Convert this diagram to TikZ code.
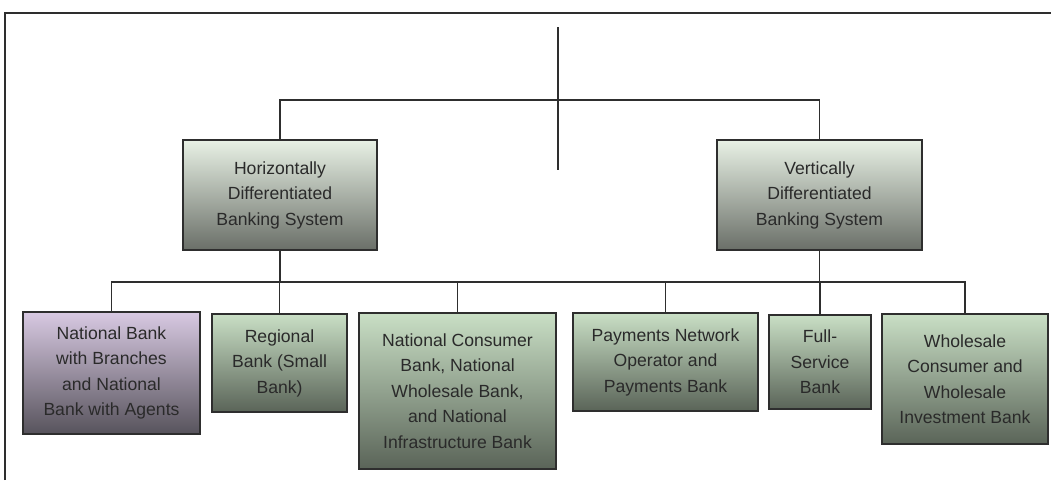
\documentclass[tikz,border=0pt]{standalone}
\usepackage{fontspec}
\setmainfont{Liberation Sans}
\definecolor{txt}{HTML}{2A2A2A}
\definecolor{edge}{HTML}{2E2E2E}
\definecolor{gtop}{HTML}{C9DFC5}
\definecolor{gmid}{HTML}{A3B59F}
\definecolor{gbot}{HTML}{5A6458}
\definecolor{ttop}{HTML}{E8F1E5}
\definecolor{tmid}{HTML}{BCC5B9}
\definecolor{tbot}{HTML}{6A6F68}
\definecolor{ptop}{HTML}{D8C9E2}
\definecolor{pmid}{HTML}{A99FB0}
\definecolor{pbot}{HTML}{57535C}
\tikzset{
  box/.style={draw=edge, line width=2pt, inner sep=0pt, outer sep=0pt,
    align=center, text=txt, font={\fontsize{17.6}{25.5}\selectfont}},
  greenbox/.style={box, top color=gtop, middle color=gmid, bottom color=gbot},
  topbox/.style={box, top color=ttop, middle color=tmid, bottom color=tbot},
  purplebox/.style={box, top color=ptop, middle color=pmid, bottom color=pbot},
  conn/.style={draw=edge, line width=1.7pt},
}
\begin{document}
\begin{tikzpicture}[x={(1pt,0)}, y={(0,-1pt)}]
\useasboundingbox (0,0) rectangle (1051,480);
% frame
\draw[draw=edge, line width=1.6pt] (5,480) -- (5,13) -- (1051,13);
% top level
\node[topbox, minimum width=194pt, minimum height=110pt] (h) at (280,195)
  {Horizontally\\Differentiated\\Banking System};
\node[topbox, minimum width=205pt, minimum height=110pt] (v) at (819.5,195)
  {Vertically\\Differentiated\\Banking System};
% bottom level
\node[purplebox, minimum width=177pt, minimum height=122pt] (b1) at (111.5,373)
  {National Bank\\with Branches\\and National\\Bank with Agents};
\node[greenbox, minimum width=135pt, minimum height=98pt] (b2) at (279.5,363)
  {Regional\\Bank (Small\\Bank)};
\node[greenbox, minimum width=197pt, minimum height=156pt] (b3) at (457.5,391)
  {National Consumer\\Bank, National\\Wholesale Bank,\\and National\\Infrastructure Bank};
\node[greenbox, minimum width=185pt, minimum height=98pt] (b4) at (665.5,362)
  {Payments Network\\Operator and\\Payments Bank};
\node[greenbox, minimum width=102pt, minimum height=94pt] (b5) at (820,362)
  {Full-\\Service\\Bank};
\node[greenbox, minimum width=166pt, minimum height=130pt] (b6) at (965,379)
  {Wholesale\\Consumer and\\Wholesale\\Investment Bank};
% connectors
\coordinate (rt) at (558,27);
\coordinate (rb) at (558,170);
\coordinate (topbus) at (0,100);
\coordinate (bus) at (0,282);
\draw[conn] (rt) -- (rb);
\draw[conn] (h.north) |- (v.north |- topbus) -- (v.north);
\draw[conn] (b1.north) |- (b6.north |- bus) -- (b6.north);
\draw[conn] (h.south) -- (h.south |- bus);
\draw[conn] (v.south) -- (v.south |- bus);
\draw[conn] (b2.north) -- (b2.north |- bus);
\draw[conn] (b3.north) -- (b3.north |- bus);
\draw[conn] (b4.north) -- (b4.north |- bus);
\draw[conn] (b5.north) -- (b5.north |- bus);
\end{tikzpicture}
\end{document}
